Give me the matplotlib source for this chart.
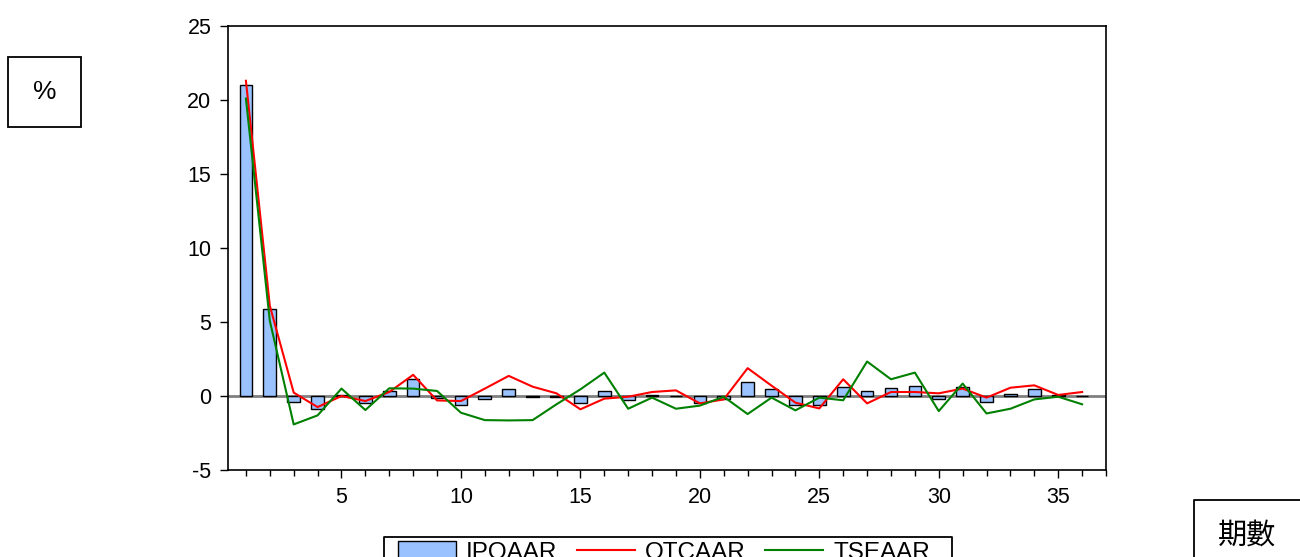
import numpy as np
import matplotlib.pyplot as plt
from matplotlib.lines import Line2D
from matplotlib.patches import Rectangle
from matplotlib.ticker import MultipleLocator

plt.rcParams['font.family'] = ['Liberation Sans', 'DejaVu Sans']
plt.rcParams['axes.unicode_minus'] = False

# Average abnormal returns (%) for periods 1..36
periods = np.arange(1, 37)
ipo_aar = [21.0, 5.85, -0.38, -0.9, 0.1, -0.45, 0.33, 1.17, -0.15, -0.63,
           -0.18, 0.45, -0.05, -0.05, -0.5, 0.32, -0.25, 0.1, -0.02, -0.5,
           -0.18, 0.97, 0.45, -0.61, -0.61, 0.63, 0.36, 0.52, 0.65, -0.22,
           0.61, -0.41, 0.15, 0.45, 0.05, 0.02]
otc_aar = [21.3, 6.1, 0.23, -0.75, 0.0, -0.34, 0.27, 1.43, -0.3, -0.34,
           0.5, 1.36, 0.63, 0.18, -0.9, -0.18, -0.05, 0.27, 0.38, -0.5,
           -0.23, 1.88, 0.7, -0.45, -0.84, 1.13, -0.5, 0.27, 0.27, 0.18,
           0.5, -0.11, 0.56, 0.72, 0.07, 0.27]
tse_aar = [20.1, 5.08, -1.92, -1.31, 0.5, -0.95, 0.52, 0.5, 0.34, -1.13,
           -1.63, -1.65, -1.63, -0.56, 0.45, 1.58, -0.86, -0.11, -0.86, -0.65,
           -0.05, -1.22, -0.11, -0.97, -0.11, -0.29, 2.33, 1.13, 1.58, -1.02,
           0.84, -1.18, -0.86, -0.23, -0.05, -0.56]

W, H = 1300, 557
fig = plt.figure(figsize=(13, 5.57), dpi=100)
ax = fig.add_axes([228 / W, 1 - 470 / H, 878 / W, 444 / H])

ax.axhline(0, color='#808080', lw=2, zorder=1)
bars = ax.bar(periods, ipo_aar, width=0.53, color='#99c2ff', edgecolor='black',
              linewidth=1, zorder=2, label='IPOAAR')
l_otc, = ax.plot(periods, otc_aar, color='#ff0000', lw=1.5, zorder=3, label='OTCAAR')
l_tse, = ax.plot(periods, tse_aar, color='#008000', lw=1.5, zorder=3, label='TSEAAR')

ax.set_xlim(0.25, 37.0)
ax.set_ylim(-5, 25)
ax.set_yticks(range(-5, 26, 5))
ax.xaxis.set_major_locator(MultipleLocator(5))
ax.xaxis.set_minor_locator(MultipleLocator(1))
ax.tick_params(axis='both', which='major', labelsize=15.5, direction='out',
               length=6, width=1, pad=6)
ax.tick_params(axis='x', which='minor', length=4, width=1)
for s in ax.spines.values():
    s.set_linewidth(1.2)

# boxes drawn in pixel coordinates of the figure
def px_box(x0, y0, x1, y1):
    fig.patches.append(Rectangle((x0 / W, 1 - y1 / H), (x1 - x0) / W, (y1 - y0) / H,
                                 transform=fig.transFigure, fill=False,
                                 ec='black', lw=1.3))

def px_line(xs, ys):
    fig.lines.append(Line2D([x / W for x in xs], [1 - y / H for y in ys],
                            transform=fig.transFigure, color='black', lw=1.3))

px_box(8, 57, 81, 127)
fig.text(44.5 / W, 1 - 92 / H, '%', fontsize=19, ha='center', va='center')

# period box runs off the right and bottom edges
px_line([1194, 1194, W + 30], [H + 30, 500, 500])
fig.text(1247 / W, 1 - 536 / H, '期數', fontsize=21, ha='center', va='center',
         family=['Noto Sans CJK TC', 'DejaVu Sans'])

# legend frame (open at the bottom edge), then the entries
px_line([384, 384, 952, 952], [H + 30, 537, 537, H + 30])
fig.legend([bars, l_otc, l_tse], ['IPOAAR', 'OTCAAR', 'TSEAAR'],
           loc='upper left', bbox_to_anchor=(398 / W, 1 - 541 / H), ncol=3,
           fontsize=17.5, frameon=False, borderpad=0, borderaxespad=0,
           handlelength=2.4, handleheight=0.9, columnspacing=0.8,
           handletextpad=0.4)

fig.savefig('out.png', dpi=100)
